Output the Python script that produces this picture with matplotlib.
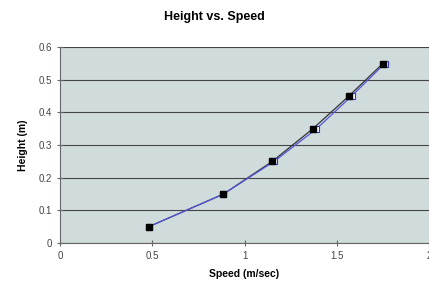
import matplotlib
matplotlib.use("Agg")
import matplotlib.pyplot as plt

plt.rcParams['font.family'] = ['Liberation Sans', 'DejaVu Sans']

# two runs of the same measurement
heights = [0.05, 0.15, 0.25, 0.35, 0.45, 0.55]
speed_a = [0.48, 0.885, 1.15, 1.37, 1.565, 1.75]
speed_b = [0.48, 0.885, 1.16, 1.39, 1.58, 1.76]

fig = plt.figure(figsize=(4.29, 2.86), dpi=100)
ax = fig.add_axes([0.14, 0.15, 0.86, 0.685])
ax.set_facecolor('#d0dcdc')

# black line first, blue run on top, black markers over everything
ax.plot(speed_a, heights, color='#333333', lw=0.9, zorder=3)
ax.plot(speed_b, heights, color='#5555dd', lw=0.9, marker='s', ms=3.8,
        mfc='white', mec='#3333cc', mew=0.8, zorder=4)
ax.plot(speed_a, heights, ls='none', marker='s', ms=3.8,
        mfc='black', mec='black', zorder=5)

ax.set_xlim(0, 2)
ax.set_ylim(0, 0.6)
ax.set_xticks([0, 0.5, 1, 1.5, 2])
ax.set_xticklabels(['0', '0.5', '1', '1.5', '2'])
ax.set_yticks([0, 0.1, 0.2, 0.3, 0.4, 0.5, 0.6])
ax.set_yticklabels(['0', '0.1', '0.2', '0.3', '0.4', '0.5', '0.6'])
ax.yaxis.grid(True, color='#444444', lw=0.8)
ax.set_axisbelow(True)

for s in ['top', 'right']:
    ax.spines[s].set_visible(False)
for s in ['left', 'bottom']:
    ax.spines[s].set_color('#666666')
    ax.spines[s].set_linewidth(0.8)

ax.tick_params(direction='inout', length=5, width=0.8, color='#666666',
               labelsize=7, labelcolor='#444444', pad=3)

ax.set_xlabel('Speed (m/sec)', fontsize=7.5, fontweight='bold', labelpad=6)
ax.set_ylabel('Height (m)', fontsize=7.5, fontweight='bold', labelpad=8)
fig.text(0.5, 0.94, 'Height vs. Speed', ha='center', va='center',
         fontsize=9, fontweight='bold')

fig.savefig('out.png', dpi=100)
